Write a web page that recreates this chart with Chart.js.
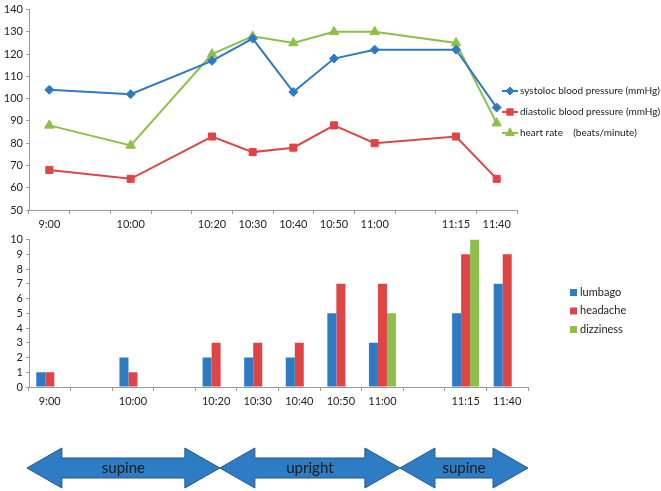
<!DOCTYPE html>
<html>
<head>
<meta charset="utf-8">
<script src="https://cdn.jsdelivr.net/npm/chart.js@4.4.1/dist/chart.umd.min.js"></script>
<style>
  body { margin: 0; background: #fff; }
  #wrap { position: relative; width: 661px; height: 491px; }
  canvas { position: absolute; left: 0; }
</style>
</head>
<body>
<div id="wrap">
  <canvas id="vitals" width="661" height="235" style="top:0"></canvas>
  <canvas id="symptoms" width="661" height="261" style="top:230px"></canvas>
</div>
<script>
// time slots (blank ones keep the spacing of the original axis)
const times = ['9:00', '', '10:00', '', '10:20', '10:30', '10:40', '10:50', '11:00', '', '11:15', '11:40'];

const systolic  = [104, null, 102, null, 117, 127, 103, 118, 122, null, 122, 96];
const diastolic = [68, null, 64, null, 83, 76, 78, 88, 80, null, 83, 64];
const heartRate = [88, null, 79, null, 120, 128, 125, 130, 130, null, 125, 89];

const lumbago   = [1, null, 2, null, 2, 2, 2, 5, 3, null, 5, 7];
const headache  = [1, null, 1, null, 3, 3, 3, 7, 7, null, 9, 9];
const dizziness = [null, null, null, null, null, null, null, null, 5, null, 10, null];

const vitalTicks = [50, 140, 10];
const symptomTicks = [0, 10, 1];

// posture phases, bounds in slot units
const phases = ['supine', 'upright', 'supine'];
const phaseBounds = [-0.55, 4.09, 8.42, 11.5];

const BLUE = '#2e7bc3';
const RED = '#df4545';
const GREEN = '#8dc04a';
const FONT = 'Lato';
const TXT = '#222';

Chart.defaults.font.family = FONT;
Chart.defaults.font.size = 11;
Chart.defaults.color = TXT;
Chart.defaults.animation = false;

// legend drawn the excel way: line + marker, or small square
const sideLegend = {
  id: 'sideLegend',
  afterDraw(chart, args, opts) {
    const ctx = chart.ctx;
    ctx.save();
    ctx.font = opts.fontSize + 'px ' + FONT;
    ctx.textBaseline = 'middle';
    chart.data.datasets.forEach((ds, i) => {
      const y = opts.y + i * opts.step;
      const x = opts.x;
      if (opts.kind === 'line') {
        ctx.strokeStyle = ds.borderColor;
        ctx.fillStyle = ds.borderColor;
        ctx.lineWidth = 2;
        ctx.beginPath();
        ctx.moveTo(x, y);
        ctx.lineTo(x + 16, y);
        ctx.stroke();
        ctx.lineWidth = 1;
        Chart.helpers.drawPoint(ctx, {
          pointStyle: ds.pointStyle, radius: ds.pointRadius - 0.5, rotation: 0, borderWidth: 1
        }, x + 8, y);
        ctx.fillStyle = TXT;
        ctx.fillText(ds.label, x + 18, y);
      } else {
        ctx.fillStyle = ds.backgroundColor;
        ctx.fillRect(x, y - 3, 7, 7);
        ctx.fillStyle = TXT;
        ctx.fillText(ds.label, x + 10, y);
      }
    });
    ctx.restore();
  }
};

new Chart(document.getElementById('vitals'), {
  type: 'line',
  data: {
    labels: times,
    datasets: [
      { label: 'systoloc blood pressure (mmHg)', data: systolic, borderColor: BLUE, backgroundColor: BLUE,
        pointStyle: 'rectRot', pointRadius: 4.5, pointBorderWidth: 1 },
      { label: 'diastolic blood pressure (mmHg)', data: diastolic, borderColor: RED, backgroundColor: RED,
        pointStyle: 'rect', pointRadius: 5, pointBorderWidth: 1 },
      { label: 'heart rate    (beats/minute)', data: heartRate, borderColor: GREEN, backgroundColor: GREEN,
        pointStyle: 'triangle', pointRadius: 5.5, pointBorderWidth: 1 }
    ]
  },
  options: {
    responsive: false,
    spanGaps: true,
    layout: { padding: { top: 7, right: 144, left: 0, bottom: 0 } },
    elements: { line: { borderWidth: 2, tension: 0 } },
    plugins: {
      legend: { display: false },
      tooltip: { enabled: false },
      sideLegend: { kind: 'line', x: 502, y: 91, step: 21, fontSize: 10 }
    },
    scales: {
      x: {
        offset: true,
        afterFit(s) { s.height = 25; },
        border: { color: '#9a9a9a' },
        grid: { offset: true, drawOnChartArea: false, color: '#9a9a9a', tickLength: 4 },
        ticks: { autoSkip: false, maxRotation: 0, padding: 4 }
      },
      y: {
        min: vitalTicks[0], max: vitalTicks[1],
        afterFit(s) { s.width = 29; },
        border: { color: '#9a9a9a' },
        grid: { drawOnChartArea: false, color: '#9a9a9a', tickLength: 3 },
        ticks: { stepSize: vitalTicks[2], padding: 3, autoSkip: false }
      }
    }
  },
  plugins: [sideLegend]
});

const postureArrows = {
  id: 'postureArrows',
  afterDraw(chart) {
    const ctx = chart.ctx;
    const xs = chart.scales.x;
    const top = 218, bot = 258, sTop = 228, sBot = 248, head = 35, mid = (top + bot) / 2;
    ctx.save();
    phases.forEach((name, i) => {
      const a = xs.getPixelForValue(phaseBounds[i]);
      const b = xs.getPixelForValue(phaseBounds[i + 1]);
      ctx.beginPath();
      ctx.moveTo(a, mid);
      ctx.lineTo(a + head, top);
      ctx.lineTo(a + head, sTop);
      ctx.lineTo(b - head, sTop);
      ctx.lineTo(b - head, top);
      ctx.lineTo(b, mid);
      ctx.lineTo(b - head, bot);
      ctx.lineTo(b - head, sBot);
      ctx.lineTo(a + head, sBot);
      ctx.lineTo(a + head, bot);
      ctx.closePath();
      ctx.fillStyle = '#2e7cc4';
      ctx.fill();
      ctx.strokeStyle = '#23568a';
      ctx.lineWidth = 1;
      ctx.stroke();
      ctx.fillStyle = '#1b1b1b';
      ctx.font = '15px ' + FONT;
      ctx.textAlign = 'center';
      ctx.textBaseline = 'middle';
      ctx.fillText(name, (a + b) / 2, mid);
    });
    ctx.restore();
  }
};

new Chart(document.getElementById('symptoms'), {
  type: 'bar',
  data: {
    labels: times,
    datasets: [
      { label: 'lumbago', data: lumbago, backgroundColor: BLUE },
      { label: 'headache', data: headache, backgroundColor: RED },
      { label: 'dizziness', data: dizziness, backgroundColor: GREEN }
    ]
  },
  options: {
    responsive: false,
    layout: { padding: { top: 7, right: 133, left: 0, bottom: 0 } },
    datasets: { bar: { categoryPercentage: 0.65, barPercentage: 1 } },
    plugins: {
      legend: { display: false },
      tooltip: { enabled: false },
      sideLegend: { kind: 'box', x: 570, y: 62, step: 18.5, fontSize: 11 }
    },
    scales: {
      x: {
        afterFit(s) { s.height = 104; },
        border: { color: '#9a9a9a' },
        grid: { offset: true, drawOnChartArea: false, color: '#9a9a9a', tickLength: 4 },
        ticks: { autoSkip: false, maxRotation: 0, padding: 4 }
      },
      y: {
        min: symptomTicks[0], max: symptomTicks[1],
        afterFit(s) { s.width = 29; },
        border: { color: '#9a9a9a' },
        grid: { drawOnChartArea: false, color: '#9a9a9a', tickLength: 3 },
        ticks: { stepSize: symptomTicks[2], padding: 3, autoSkip: false }
      }
    }
  },
  plugins: [sideLegend, postureArrows]
});
</script>
</body>
</html>
